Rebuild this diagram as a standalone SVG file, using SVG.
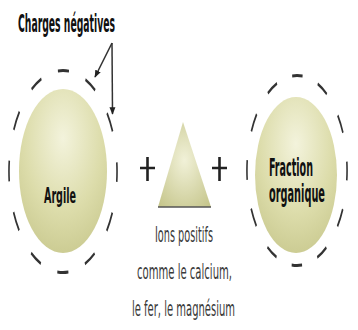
<svg xmlns="http://www.w3.org/2000/svg" width="358" height="330" viewBox="0 0 358 330">
<defs>
<radialGradient id="gball" cx="0.5" cy="0.3" r="0.75">
<stop offset="0" stop-color="#f3f3dc"/>
<stop offset="0.6" stop-color="#dcdcaa"/>
<stop offset="1" stop-color="#c9c98f"/>
</radialGradient>
<radialGradient id="gtri" cx="0.5" cy="0.45" r="0.7">
<stop offset="0" stop-color="#f1f1d8"/>
<stop offset="1" stop-color="#c6c68c"/>
</radialGradient>
<marker id="ah" viewBox="0 0 10 10" refX="9" refY="5" markerWidth="5" markerHeight="5" orient="auto">
<path d="M0,1 L10,5 L0,9 z" fill="#222"/>
</marker>
</defs>
<style>
.ring{fill:none;stroke:#333;stroke-width:3;stroke-dasharray:21 31.8905;}
.lbl{font-family:"DejaVu Sans","Liberation Sans",sans-serif;font-stretch:condensed;font-weight:bold;fill:#111;}
.ion{font-family:"DejaVu Sans","Liberation Sans",sans-serif;font-stretch:condensed;fill:#3a3a3a;font-size:21px;}
.plus{stroke:#222;stroke-width:2.6;fill:none;}
.conn{stroke:#333;stroke-width:1.5;fill:none;}
</style>
<text class="lbl" x="18" y="32" font-size="24" textLength="97" lengthAdjust="spacingAndGlyphs">Charges négatives</text>
<g id="connectors">
<line class="conn" x1="112" y1="43" x2="95" y2="77" marker-end="url(#ah)"/>
<line class="conn" x1="112" y1="43" x2="112.5" y2="114" marker-end="url(#ah)"/>
</g>
<g id="argile">
<ellipse cx="63" cy="171" rx="44" ry="82" fill="url(#gball)"/>
<circle class="ring" r="101" stroke-dashoffset="10.5" transform="translate(63,171.5) scale(0.535,1)"/>
<text class="lbl" x="60" y="203" font-size="22" text-anchor="middle" textLength="32" lengthAdjust="spacingAndGlyphs">Argile</text>
</g>
<g id="ions">
<polygon points="183,122 211,207 158,207" fill="url(#gtri)"/>
<line x1="158" y1="207" x2="211" y2="207" stroke="#555" stroke-width="1.5"/>
<path class="plus" d="M140,168 H155 M147.5,157 V181"/>
<path class="plus" d="M212,168 H227 M219.5,157 V181"/>
<text class="ion" x="184" y="242" text-anchor="middle" textLength="58" lengthAdjust="spacingAndGlyphs">Ions positifs</text>
<text class="ion" x="184.5" y="279" text-anchor="middle" textLength="95" lengthAdjust="spacingAndGlyphs">comme le calcium,</text>
<text class="ion" x="183.5" y="316" text-anchor="middle" textLength="103" lengthAdjust="spacingAndGlyphs">le fer, le magnésium</text>
</g>
<g id="fraction">
<ellipse cx="296" cy="175" rx="41" ry="78" fill="url(#gball)"/>
<circle class="ring" r="95" stroke-dashoffset="10" transform="translate(297,170.5) scale(0.527,1)" style="stroke-dasharray:20 29.742"/>
<text class="lbl" x="269" y="176" font-size="24" textLength="44" lengthAdjust="spacingAndGlyphs">Fraction</text>
<text class="lbl" x="269" y="202" font-size="24" textLength="56" lengthAdjust="spacingAndGlyphs">organique</text>
</g>
</svg>
